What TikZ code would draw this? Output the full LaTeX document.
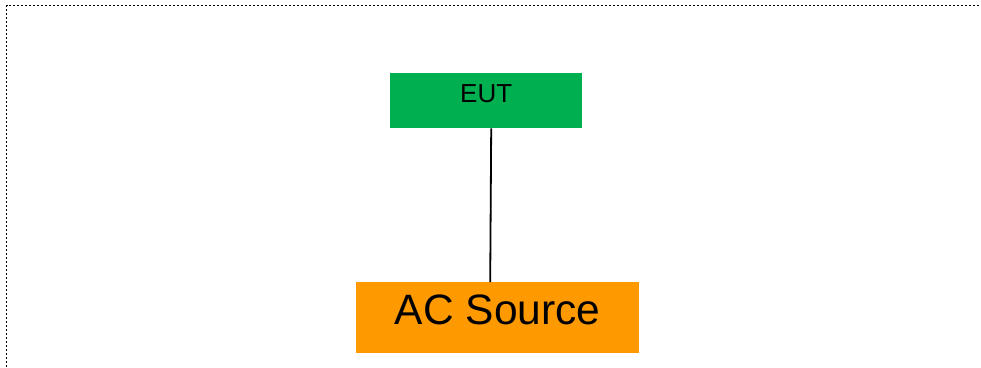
\documentclass[tikz,border=0pt]{standalone}
\usepackage{fontspec}
\setmainfont{Liberation Sans}
\usepackage[dvipsnames,svgnames]{xcolor}
\definecolor{eutgreen}{HTML}{00B050}
\definecolor{acorange}{HTML}{FF9900}

\begin{document}
\begin{tikzpicture}[x=1pt,y=-1pt,
  box/.style={inner sep=0pt,anchor=north west,align=center}]

\useasboundingbox (0,0) rectangle (981,367);
% dotted frame
\draw[line width=1.6pt,dash pattern=on 1.6pt off 2.4pt] (6.5,367) -- (6.5,5.5) -- (981,5.5);

\node[box,fill=eutgreen,minimum width=192pt,text height=29pt,text depth=26pt,font=\fontsize{26}{30}\selectfont]
  (eut) at (390,73) {EUT};
\node[box,fill=acorange,minimum width=283pt,text height=42pt,text depth=29pt,font=\fontsize{42.5}{48}\selectfont]
  (acsource) at (356,282) {AC Source};

 \draw[line width=1.8pt] ([xshift=5pt]eut.south) -- ([xshift=-7.5pt]acsource.north);
\end{tikzpicture}
\end{document}
